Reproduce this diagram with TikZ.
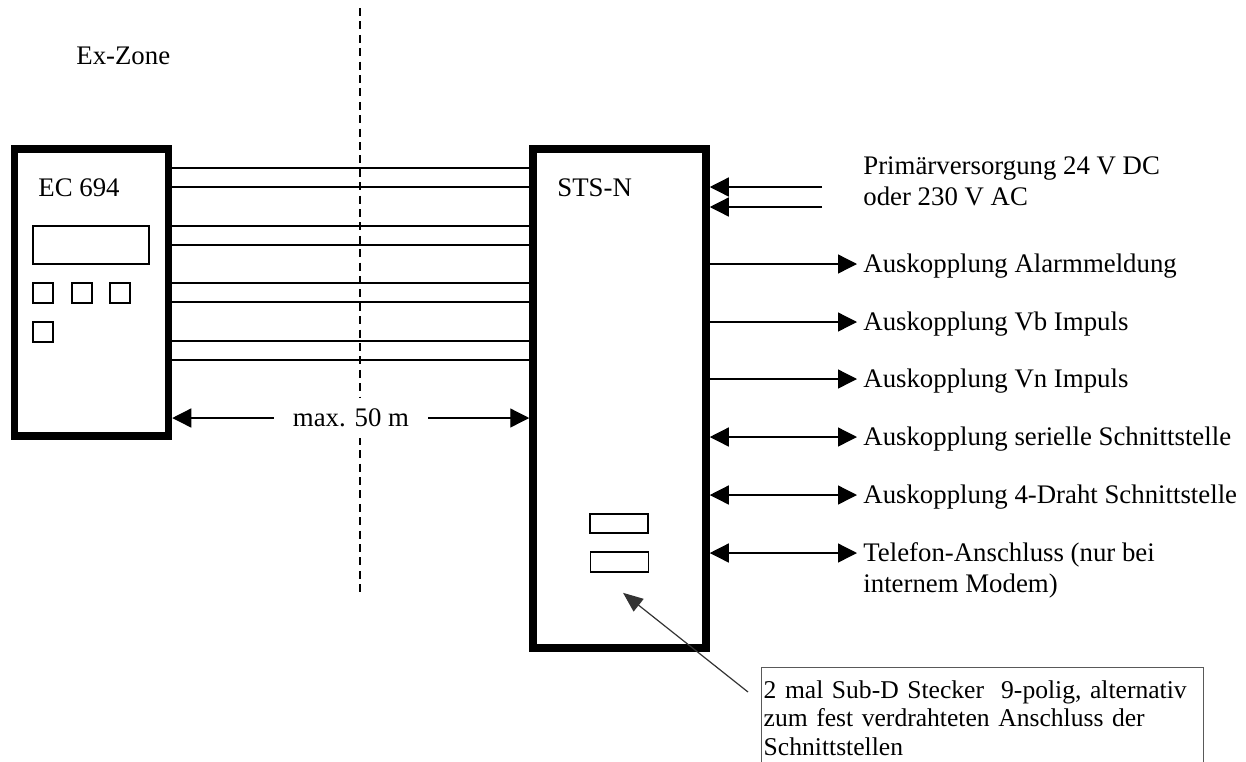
\documentclass[tikz,border=0pt]{standalone}
\usepackage{fontspec}
\setmainfont{Liberation Serif}
\usetikzlibrary{arrows.meta,positioning}

\begin{document}
\begin{tikzpicture}[x=0.5pt, y=-0.5pt, >={Triangle[length=9.5pt,width=9.5pt]},
  font=\fontsize{13.4pt}{14.75pt}\selectfont,
  unit/.style={draw, line width=3.75pt, inner sep=0pt},
  wire/.style={line width=0.65pt},
  lbl/.style={anchor=west, inner xsep=3pt, inner ysep=0pt,
    text height=8.9pt, text depth=0pt},
  part/.style={draw, line width=0.8pt, inner sep=0pt}]
  \clip (0,0) rectangle (1246,761);
  % Zone border
  \coordinate (zonetop) at (360,8);
  \coordinate (zonebot) at (360,597);
  \draw[line width=1pt, dash pattern=on 4pt off 2.7pt] (zonetop) -- (zonebot);
  \node[anchor=base west, inner sep=0pt] (exzone) at (76,64) {Ex-Zone};
  % Field device
  \node[unit, minimum width=77pt, minimum height=143.5pt]
    (ec) at (91.5,292.5) {};
  \node[anchor=base west, inner sep=0pt] (ecname) at (38,196) {EC 694};
  \node[part, minimum width=58pt, minimum height=19pt] (display) at (91,245) {};
  \foreach \x/\y [count=\i] in {43/293, 82/293, 120/293, 43/332}
    \node[part, minimum size=10pt] (key\i) at (\x,\y) {};
  % Station
  \node[unit, minimum width=86.5pt, minimum height=249.5pt]
    (sts) at (619.5,398.5) {};
  \node[anchor=base west, inner sep=0pt] (stsname) at (557,196) {STS-N};
  \node[part, minimum width=29pt, minimum height=9.5pt] (sub1) at (619,523.5) {};
  \node[part, minimum width=29pt, minimum height=10pt] (sub2) at (619.5,562) {};
  % Cable between the two
  \foreach \y in {168,187,226,245,283,302,341,360}
    \draw[wire] (ec.east |- 0,\y) -- (sts.west |- 0,\y);
  % Cable length
  \node[fill=white, inner xsep=9.5pt, inner ysep=5.5pt] (maxlen) at (351,418)
    {max. 50 m};
  \draw[wire, ->] (maxlen.west) -- (maxlen.west -| ec.east);
  \draw[wire, ->] (maxlen.east) -- (maxlen.east -| sts.west);
  % Supply
  \node[lbl] (supply) at (857,166) {Primärversorgung 24 V DC};
  \node[lbl, below right=5.9pt and 0pt of supply.south west] (supply2)
    {oder 230 V AC};
  \coordinate (pin1) at (822,187);
  \coordinate (pin2) at (822,207);
  \draw[wire, ->] (pin1) -- (sts.east |- pin1);
  \draw[wire, ->] (pin2) -- (sts.east |- pin2);
  % Outputs
  \foreach \y/\name/\txt in {264/alarm/Auskopplung Alarmmeldung,
      322/vb/Auskopplung Vb Impuls, 379/vn/Auskopplung Vn Impuls} {
    \node[lbl] (\name) at (857,\y) {\txt};
    \draw[wire, ->] (sts.east |- \name.west) -- (\name.west);
  }
  % Interfaces
  \foreach \y/\name/\txt in {437/serial/Auskopplung serielle Schnittstelle,
      495/fourwire/Auskopplung 4-Draht Schnittstelle,
      553/phone/Telefon-Anschluss (nur bei} {
    \node[lbl] (\name) at (857,\y) {\txt};
    \draw[wire, <->] (sts.east |- \name.west) -- (\name.west);
  }
  \node[lbl, below right=5.9pt and 0pt of phone.south west] (phone2)
    {internem Modem)};
  % Note on the Sub-D plugs
  \node[draw=black!65, line width=0.7pt, anchor=north west, text width=219pt,
    align=left, inner xsep=1pt, inner ysep=6.5pt,
    font=\fontsize{12.8pt}{14.2pt}\selectfont]
    (note) at (761,667)
    {\mbox{2 mal Sub-D Stecker\ \ 9-polig, alternativ}\\
     \mbox{zum fest verdrahteten Anschluss der}\\
     Schnittstellen};
  \draw[black!80, line width=0.6pt, -{Triangle[length=10pt,width=8pt]}]
    ([shift={(-6.5pt,-12.5pt)}]note.north west)
    -- ([shift={(1.75pt,-10pt)}]sub2.south);
\end{tikzpicture}
\end{document}
